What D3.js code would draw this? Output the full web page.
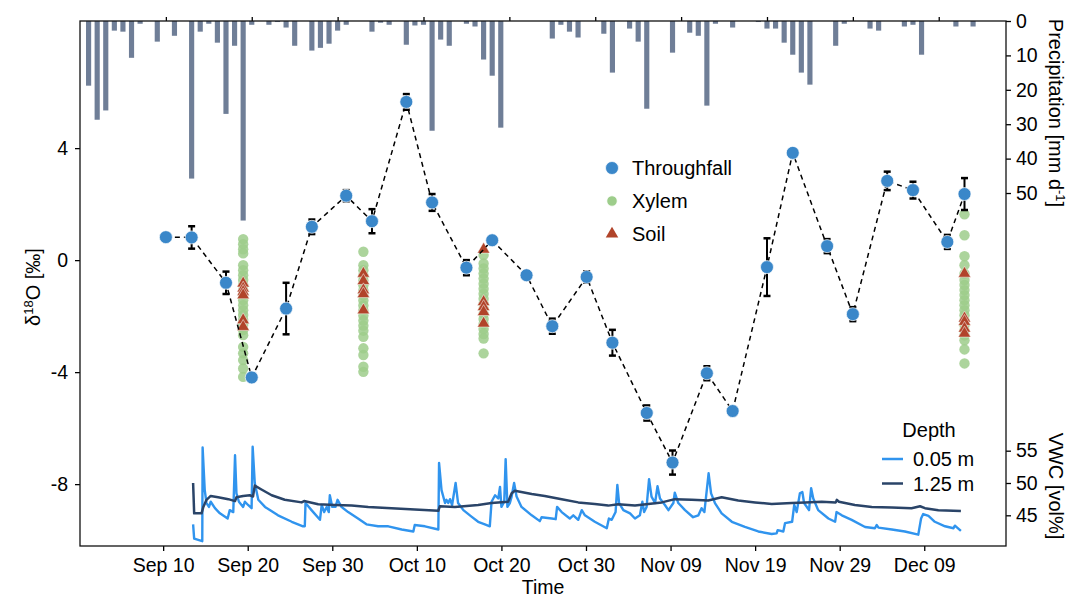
<!DOCTYPE html>
<html>
<head>
<meta charset="utf-8">
<script src="https://cdn.jsdelivr.net/npm/d3@7"></script>
<style>
  body { margin: 0; background: #fff; }
  text { font-family: 'Liberation Sans', Arial, sans-serif; }
</style>
</head>
<body>
<script>
// throughfall samples, twice a week
const throughfallDates = ['2019-09-10', '2019-09-13', '2019-09-17', '2019-09-20', '2019-09-24', '2019-09-27',
  '2019-10-01', '2019-10-04', '2019-10-08', '2019-10-11', '2019-10-15', '2019-10-18', '2019-10-22', '2019-10-25',
  '2019-10-29', '2019-11-01', '2019-11-05', '2019-11-08', '2019-11-12', '2019-11-15', '2019-11-19', '2019-11-22',
  '2019-11-26', '2019-11-29', '2019-12-03', '2019-12-06', '2019-12-10', '2019-12-12']
const throughfallValues = [0.82, 0.81, -0.81, -4.19, -1.73, 1.19, 2.3, 1.39, 5.65, 2.06, -0.27, 0.71, -0.54, -2.36,
  -0.6, -2.95, -5.46, -7.23, -4.04, -5.39, -0.25, 3.83, 0.5, -1.93, 2.83, 2.5, 0.65, 2.36]
const throughfallErrors = [0, 0.4, 0.4, 0, 0.92, 0.26, 0.2, 0.43, 0.28, 0.3, 0.27, 0, 0.1, 0.27, 0.2, 0.46, 0.27,
  0.43, 0.25, 0.15, 1.03, 0, 0.25, 0.25, 0.33, 0.3, 0.25, 0.57]

// xylem and soil campaigns
const sampleDates = ['2019-09-19', '2019-10-03', '2019-10-17', '2019-12-12']
const xylemValues = [
  [0.75, 0.57, 0.39, 0.24, -0.18, -0.36, -0.54, -0.71, -0.89, -1.07, -1.25, -1.43, -1.61, -1.79, -1.96, -2.14,
    -2.32, -2.5, -2.68, -3.1, -3.33, -3.57, -3.87, -4.17],
  [0.3, -0.18, -0.36, -0.54, -0.72, -0.9, -1.08, -1.26, -1.44, -1.62, -1.8, -1.98, -2.16, -2.34, -2.52, -2.74,
    -3.15, -3.39, -3.81, -3.99],
  [0.18, -0.12, -0.3, -0.48, -0.66, -0.84, -1.02, -1.2, -1.38, -1.56, -1.74, -1.92, -2.1, -2.28, -2.46, -2.64,
    -2.8, -3.33],
  [1.64, 0.89, 0.14, -0.18, -0.48, -0.71, -0.89, -1.07, -1.25, -1.43, -1.61, -1.79, -1.97, -2.15, -2.33, -2.51,
    -2.69, -2.86, -3.19, -3.69]
]
const soilValues = [
  [-0.83, -1.01, -1.13, -1.25, -2.14, -2.38],
  [-0.48, -0.74, -1.07, -1.21, -1.79],
  [0.38, -1.49, -1.67, -1.85, -2.26],
  [-0.48, -2.08, -2.2, -2.44, -2.62]
]

// daily precipitation [mm]
const precipDates = ['2019-09-01', '2019-09-02', '2019-09-03', '2019-09-04', '2019-09-05', '2019-09-06',
  '2019-09-07', '2019-09-09', '2019-09-11', '2019-09-13', '2019-09-14', '2019-09-15', '2019-09-16', '2019-09-17',
  '2019-09-18', '2019-09-19', '2019-09-20', '2019-09-22', '2019-09-23', '2019-09-24', '2019-09-25', '2019-09-27',
  '2019-09-28', '2019-09-29', '2019-09-30', '2019-10-01', '2019-10-04', '2019-10-05', '2019-10-06', '2019-10-08',
  '2019-10-09', '2019-10-10', '2019-10-11', '2019-10-12', '2019-10-13', '2019-10-15', '2019-10-16', '2019-10-17',
  '2019-10-18', '2019-10-19', '2019-10-25', '2019-10-26', '2019-10-27', '2019-10-28', '2019-10-31', '2019-11-01',
  '2019-11-03', '2019-11-04', '2019-11-05', '2019-11-08', '2019-11-10', '2019-11-11', '2019-11-12', '2019-11-13',
  '2019-11-15', '2019-11-18', '2019-11-19', '2019-11-20', '2019-11-21', '2019-11-22', '2019-11-23', '2019-11-24',
  '2019-11-27', '2019-11-28', '2019-12-01', '2019-12-02', '2019-12-05', '2019-12-06', '2019-12-07', '2019-12-11',
  '2019-12-13']
const precipValues = [18.8, 28.7, 26, 2.8, 3.1, 10.7, 0.8, 6, 4.3, 45.8, 3.1, 0.8, 6.3, 27, 7.2, 58, 1.1, 1.1,
  0.3, 1.9, 7.2, 8.6, 7.8, 6.6, 2.8, 1.1, 3.1, 0.5, 1.1, 6.9, 1.3, 1.1, 31.9, 5.4, 7.2, 0.8, 1.6, 11.2, 15.9, 31,
  5.1, 1.1, 3.1, 4.8, 3.7, 15, 2.2, 6, 25.5, 9.2, 3.4, 4.3, 24.6, 0.8, 1.9, 0.3, 2.2, 2.2, 6.3, 9.8, 15, 18.5, 7.2,
  0.8, 2.2, 2.8, 1.6, 1.1, 9.8, 1.6, 1.6]

// volumetric water content [vol%], 'MM-DD HH'
const vwcShallow = [['09-13 13', 43.6], ['09-13 16', 41.4], ['09-14 15', 41.0], ['09-14 16', 55.5],
  ['09-14 22', 48.9], ['09-15 03', 46.9], ['09-15 10', 46.3], ['09-15 15', 47.1], ['09-16 03', 46.1],
  ['09-16 17', 45.3], ['09-17 15', 44.5], ['09-17 21', 45.8], ['09-18 07', 45.5], ['09-18 12', 54.3],
  ['09-18 16', 48.4], ['09-18 23', 47.1], ['09-19 11', 46.3], ['09-19 16', 47.1], ['09-20 01', 46.6],
  ['09-20 11', 46.1], ['09-20 14', 55.6], ['09-20 20', 50.0], ['09-21 06', 47.4], ['09-22 01', 46.3],
  ['09-23 14', 45.0], ['09-25 05', 44.0], ['09-26 13', 43.3], ['09-26 18', 43.3], ['09-26 20', 46.9],
  ['09-27 13', 45.8], ['09-28 13', 44.3], ['09-28 18', 46.6], ['09-29 01', 45.5], ['09-29 08', 46.3],
  ['09-29 14', 45.5], ['09-29 17', 48.1], ['09-30 00', 46.3], ['09-30 09', 46.3], ['09-30 15', 47.4],
  ['10-01 02', 46.3], ['10-01 21', 45.5], ['10-03 01', 44.5], ['10-04 01', 43.6], ['10-05 10', 43.3],
  ['10-06 15', 43.3], ['10-08 05', 42.8], ['10-09 14', 42.5], ['10-09 18', 43.5], ['10-10 23', 43.3],
  ['10-12 13', 42.8], ['10-12 15', 53.1], ['10-12 22', 48.9], ['10-13 08', 46.9], ['10-13 12', 47.4],
  ['10-13 17', 46.9], ['10-13 22', 47.5], ['10-14 04', 46.6], ['10-14 14', 50.0], ['10-14 21', 46.9],
  ['10-15 12', 45.8], ['10-16 11', 44.8], ['10-17 06', 44.0], ['10-18 01', 43.6], ['10-18 15', 43.3],
  ['10-18 20', 47.1], ['10-19 06', 48.1], ['10-19 15', 47.6], ['10-19 20', 49.4], ['10-20 00', 46.3],
  ['10-20 08', 47.1], ['10-20 12', 53.7], ['10-20 17', 46.3], ['10-21 00', 46.9], ['10-21 05', 47.9],
  ['10-21 12', 50.0], ['10-21 19', 47.9], ['10-22 09', 46.3], ['10-23 14', 45.0], ['10-24 13', 44.1],
  ['10-24 18', 44.7], ['10-25 23', 44.5], ['10-26 10', 44.4], ['10-26 14', 46.3], ['10-27 03', 45.5],
  ['10-28 02', 44.5], ['10-28 12', 45.0], ['10-29 02', 44.3], ['10-29 12', 45.8], ['10-29 21', 45.0],
  ['10-31 01', 44.0], ['11-01 11', 43.0], ['11-01 17', 44.5], ['11-02 01', 44.3], ['11-02 12', 45.5],
  ['11-02 17', 49.7], ['11-02 22', 46.9], ['11-03 10', 45.8], ['11-04 05', 45.3], ['11-04 19', 44.5],
  ['11-05 09', 45.0], ['11-05 16', 47.1], ['11-05 21', 45.5], ['11-06 04', 46.3], ['11-06 11', 50.6],
  ['11-06 18', 47.9], ['11-07 04', 46.9], ['11-07 11', 49.5], ['11-07 18', 47.6], ['11-08 08', 46.6],
  ['11-08 18', 45.8], ['11-09 08', 46.9], ['11-09 12', 48.5], ['11-09 22', 46.9], ['11-10 17', 45.8],
  ['11-11 16', 44.7], ['11-12 07', 45.0], ['11-12 16', 46.1], ['11-13 00', 45.5], ['11-13 12', 51.5],
  ['11-13 19', 48.4], ['11-14 06', 46.9], ['11-15 01', 45.3], ['11-16 06', 44.0], ['11-17 19', 43.2],
  ['11-19 09', 42.5], ['11-20 23', 42.1], ['11-21 13', 42.2], ['11-21 16', 42.7], ['11-22 08', 42.5],
  ['11-22 13', 43.8], ['11-23 09', 44.0], ['11-23 15', 46.6], ['11-23 22', 45.5], ['11-24 07', 48.4],
  ['11-24 14', 48.6], ['11-24 19', 46.9], ['11-25 09', 45.8], ['11-25 15', 49.2], ['11-25 21', 47.6],
  ['11-26 11', 45.8], ['11-27 16', 44.5], ['11-28 11', 44.0], ['11-28 15', 45.5], ['11-29 06', 45.0],
  ['11-30 10', 44.3], ['12-02 00', 43.2], ['12-03 04', 43.0], ['12-03 09', 43.5], ['12-03 14', 43.1],
  ['12-05 04', 42.8], ['12-06 17', 42.5], ['12-08 07', 42.0], ['12-08 15', 44.5], ['12-08 21', 45.2],
  ['12-09 12', 44.9], ['12-10 06', 44.0], ['12-11 11', 43.3], ['12-12 11', 43.0], ['12-12 15', 43.4],
  ['12-13 08', 42.6]]
const vwcDeep = [['09-13 13', 50.0], ['09-13 16', 45.3], ['09-14 13', 45.3], ['09-14 18', 46.3],
  ['09-15 03', 47.4], ['09-15 15', 48.0], ['09-16 12', 47.8], ['09-17 17', 47.5], ['09-18 12', 47.2],
  ['09-18 16', 47.8], ['09-19 11', 48.0], ['09-20 06', 48.1], ['09-20 15', 47.9], ['09-20 20', 49.6],
  ['09-21 15', 49.0], ['09-22 20', 48.1], ['09-24 09', 47.4], ['09-26 09', 47.0], ['09-26 16', 47.2],
  ['09-28 08', 46.7], ['09-30 07', 46.6], ['10-02 07', 46.5], ['10-04 06', 46.3], ['10-07 00', 46.1],
  ['10-09 18', 45.9], ['10-12 13', 45.7], ['10-12 17', 46.4], ['10-14 12', 46.3], ['10-17 06', 46.6],
  ['10-18 20', 46.9], ['10-20 19', 47.1], ['10-21 05', 48.4], ['10-21 14', 48.8], ['10-23 14', 48.3],
  ['10-25 03', 48.0], ['10-27 03', 47.5], ['10-29 02', 47.0], ['10-31 01', 46.75], ['11-01 15', 46.5],
  ['11-02 19', 46.7], ['11-04 19', 46.5], ['11-06 09', 46.75], ['11-07 23', 47.0], ['11-09 12', 47.5],
  ['11-11 12', 47.4], ['11-13 11', 47.3], ['11-15 01', 47.8], ['11-17 00', 47.3], ['11-19 00', 47.0],
  ['11-20 23', 46.75], ['11-23 08', 46.9], ['11-24 22', 47.0], ['11-26 21', 47.1], ['11-28 13', 47.0],
  ['11-28 16', 47.4], ['11-28 22', 47.1], ['11-30 19', 46.6], ['12-02 19', 46.3], ['12-05 04', 46.2],
  ['12-07 12', 46.1], ['12-08 12', 46.4], ['12-09 02', 46.1], ['12-10 16', 45.8], ['12-13 08', 45.65]]

const timeTicks = ['2019-09-10', '2019-09-20', '2019-09-30', '2019-10-10', '2019-10-20', '2019-10-30',
  '2019-11-09', '2019-11-19', '2019-11-29', '2019-12-09']
const isoTicks = [4, 0, -4, -8]
const precipTicks = [0, 10, 20, 30, 40, 50]
const vwcTicks = [45, 50, 55]

const width = 1070
const height = 600
const margin = { top: 21, right: 64, bottom: 54, left: 80 }
const plotLeft = margin.left
const plotRight = width - margin.right
const plotTop = margin.top
const plotBottom = height - margin.bottom

const parseDay = d3.timeParse('%Y-%m-%d')
const parseHour = d3.timeParse('%Y-%m-%d %H')

const colors = {
  throughfall: '#3a87c9',
  xylem: '#9dcd8b',
  soil: '#b1442a',
  precip: '#6f7e97',
  shallow: '#3094ee',
  deep: '#2a4468'
}

// the isotope/precip panel and the VWC panel have slightly different time limits
const xTop = d3.scaleTime()
  .domain([parseHour('2019-08-31 00'), parseHour('2019-12-16 20')])
  .range([plotLeft, plotRight])
const xBottom = d3.scaleTime()
  .domain([parseHour('2019-08-31 04'), parseHour('2019-12-18 16')])
  .range([plotLeft, plotRight])

const yIso = d3.scaleLinear().domain([-10.21, 8.54]).range([plotBottom, plotTop])
const yPrecip = d3.scaleLinear().domain([0, 152.6]).range([plotTop, plotBottom])
const yVwc = d3.scaleLinear().domain([40.25, 121.5]).range([plotBottom, plotTop])

const svg = d3.select('body').append('svg')
  .attr('width', width)
  .attr('height', height)

// precipitation bars hanging from the top
const dayWidth = xTop(parseDay('2019-09-02')) - xTop(parseDay('2019-09-01'))
svg.append('g')
  .selectAll('rect')
  .data(precipDates.map((d, i) => ({ date: parseDay(d), value: precipValues[i] })))
  .enter().append('rect')
  .attr('x', d => xTop(d.date) - dayWidth * 0.3)
  .attr('y', yPrecip(0))
  .attr('width', dayWidth * 0.6)
  .attr('height', d => yPrecip(d.value) - yPrecip(0))
  .attr('fill', colors.precip)

// soil moisture lines
const vwcLine = d3.line()
  .x(d => xBottom(parseHour('2019-' + d[0])))
  .y(d => yVwc(d[1]))

svg.append('path')
  .datum(vwcShallow)
  .attr('d', vwcLine)
  .attr('fill', 'none')
  .attr('stroke', colors.shallow)
  .attr('stroke-width', 2.4)
  .attr('stroke-linejoin', 'round')
svg.append('path')
  .datum(vwcDeep)
  .attr('d', vwcLine)
  .attr('fill', 'none')
  .attr('stroke', colors.deep)
  .attr('stroke-width', 2.5)
  .attr('stroke-linejoin', 'round')

// xylem and soil samples
const xylem = []
const soil = []
sampleDates.forEach((d, i) => {
  xylemValues[i].forEach(v => xylem.push({ date: parseDay(d), value: v }))
  soilValues[i].forEach(v => soil.push({ date: parseDay(d), value: v }))
})

svg.append('g')
  .selectAll('circle')
  .data(xylem)
  .enter().append('circle')
  .attr('cx', d => xTop(d.date))
  .attr('cy', d => yIso(d.value))
  .attr('r', 5.2)
  .attr('fill', colors.xylem)
  .attr('fill-opacity', 0.85)

const triangle = d3.symbol().type(d3.symbolTriangle).size(68)
svg.append('g')
  .selectAll('path')
  .data(soil)
  .enter().append('path')
  .attr('d', triangle)
  .attr('transform', d => `translate(${xTop(d.date)},${yIso(d.value)})`)
  .attr('fill', colors.soil)
  .attr('stroke', '#fff')
  .attr('stroke-width', 0.5)

// throughfall series
const throughfall = throughfallDates.map((d, i) => ({
  date: parseDay(d),
  value: throughfallValues[i],
  error: throughfallErrors[i]
}))

svg.append('path')
  .datum(throughfall)
  .attr('d', d3.line().x(d => xTop(d.date)).y(d => yIso(d.value)))
  .attr('fill', 'none')
  .attr('stroke', '#000')
  .attr('stroke-width', 1.5)
  .attr('stroke-dasharray', '5,4')

const errorGroup = svg.append('g')
  .selectAll('g')
  .data(throughfall.filter(d => d.error > 0))
  .enter().append('g')
  .attr('stroke', '#000')
errorGroup.append('line')
  .attr('x1', d => xTop(d.date))
  .attr('x2', d => xTop(d.date))
  .attr('y1', d => yIso(d.value + d.error))
  .attr('y2', d => yIso(d.value - d.error))
  .attr('stroke-width', 2)
errorGroup.selectAll('.cap')
  .data(d => [{ date: d.date, value: d.value + d.error }, { date: d.date, value: d.value - d.error }])
  .enter().append('line')
  .attr('x1', d => xTop(d.date) - 3.5)
  .attr('x2', d => xTop(d.date) + 3.5)
  .attr('y1', d => yIso(d.value))
  .attr('y2', d => yIso(d.value))
  .attr('stroke-width', 2.5)

svg.append('g')
  .selectAll('circle')
  .data(throughfall)
  .enter().append('circle')
  .attr('cx', d => xTop(d.date))
  .attr('cy', d => yIso(d.value))
  .attr('r', 6.5)
  .attr('fill', colors.throughfall)
  .attr('stroke', '#fff')
  .attr('stroke-width', 0.7)

// axes
const styleAxis = g => {
  g.select('.domain').remove()
  g.selectAll('.tick line').attr('stroke', '#000').attr('stroke-width', 1.3)
  g.selectAll('.tick text')
    .attr('fill', '#000')
    .attr('font-size', '19.5px')
    .attr('font-family', "'Liberation Sans', Arial, sans-serif")
}

svg.append('g')
  .attr('transform', `translate(0,${plotBottom})`)
  .call(d3.axisBottom(xBottom)
    .tickValues(timeTicks.map(parseDay))
    .tickFormat(d3.timeFormat('%b %d'))
    .tickSizeOuter(0)
    .tickSize(5)
    .tickPadding(7))
  .call(styleAxis)

svg.append('g')
  .attr('transform', `translate(0,${plotTop})`)
  .call(d3.axisTop(xTop)
    .tickValues(timeTicks.map(parseDay))
    .tickFormat('')
    .tickSize(4))
  .call(styleAxis)

svg.append('g')
  .attr('transform', `translate(${plotLeft},0)`)
  .call(d3.axisLeft(yIso)
    .tickValues(isoTicks)
    .tickFormat(d => String(d))
    .tickSize(5)
    .tickPadding(7))
  .call(styleAxis)

svg.append('g')
  .attr('transform', `translate(${plotRight},0)`)
  .call(d3.axisRight(yPrecip)
    .tickValues(precipTicks)
    .tickSize(5)
    .tickPadding(5))
  .call(styleAxis)

svg.append('g')
  .attr('transform', `translate(${plotRight},0)`)
  .call(d3.axisRight(yVwc)
    .tickValues(vwcTicks)
    .tickSize(5)
    .tickPadding(5))
  .call(styleAxis)

svg.append('rect')
  .attr('x', plotLeft)
  .attr('y', plotTop)
  .attr('width', plotRight - plotLeft)
  .attr('height', plotBottom - plotTop)
  .attr('fill', 'none')
  .attr('stroke', '#111')
  .attr('stroke-width', 1.3)

// axis titles
svg.append('text')
  .text('Time')
  .attr('x', (plotLeft + plotRight) / 2)
  .attr('y', 594)
  .attr('text-anchor', 'middle')
  .attr('font-size', '19.5px')

const isoLabel = svg.append('text')
  .attr('transform', 'translate(40,287) rotate(-90)')
  .attr('text-anchor', 'middle')
  .attr('font-size', '20px')
isoLabel.append('tspan').text('δ')
isoLabel.append('tspan').text('18').attr('font-size', '13px').attr('baseline-shift', '55%')
isoLabel.append('tspan').text('O [‰]')

const precipLabel = svg.append('text')
  .attr('transform', 'translate(1049,113) rotate(90)')
  .attr('text-anchor', 'middle')
  .attr('font-size', '20px')
precipLabel.append('tspan').text('Precipitation [mm d')
precipLabel.append('tspan').text('-1').attr('font-size', '13px').attr('baseline-shift', '55%')
precipLabel.append('tspan').text(']')

svg.append('text')
  .text('VWC [vol%]')
  .attr('transform', 'translate(1049,486) rotate(90)')
  .attr('text-anchor', 'middle')
  .attr('font-size', '20px')

// sample legend
const legendItems = [
  { label: 'Throughfall', type: 'circle', color: colors.throughfall, r: 6.5 },
  { label: 'Xylem', type: 'circle', color: colors.xylem, r: 5.2 },
  { label: 'Soil', type: 'triangle', color: colors.soil }
]
const legend = svg.append('g')
  .selectAll('g')
  .data(legendItems)
  .enter().append('g')
  .attr('transform', (d, i) => `translate(612,${168 + i * 33})`)
legend.filter(d => d.type === 'circle').append('circle')
  .attr('r', d => d.r)
  .attr('fill', d => d.color)
  .attr('stroke', '#fff')
  .attr('stroke-width', 0.7)
legend.filter(d => d.type === 'triangle').append('path')
  .attr('d', triangle)
  .attr('fill', d => d.color)
legend.append('text')
  .text(d => d.label)
  .attr('x', 20)
  .attr('y', 7)
  .attr('font-size', '20px')

// depth legend
const depthItems = [
  { label: '0.05 m', color: colors.shallow },
  { label: '1.25 m', color: colors.deep }
]
svg.append('text')
  .text('Depth')
  .attr('x', 929)
  .attr('y', 437)
  .attr('text-anchor', 'middle')
  .attr('font-size', '20px')
const depthLegend = svg.append('g')
  .selectAll('g')
  .data(depthItems)
  .enter().append('g')
  .attr('transform', (d, i) => `translate(882,${459 + i * 24.5})`)
depthLegend.append('line')
  .attr('x1', 0)
  .attr('x2', 21)
  .attr('stroke', d => d.color)
  .attr('stroke-width', 2.5)
depthLegend.append('text')
  .text(d => d.label)
  .attr('x', 31)
  .attr('y', 7)
  .attr('font-size', '20px')
</script>
</body>
</html>
